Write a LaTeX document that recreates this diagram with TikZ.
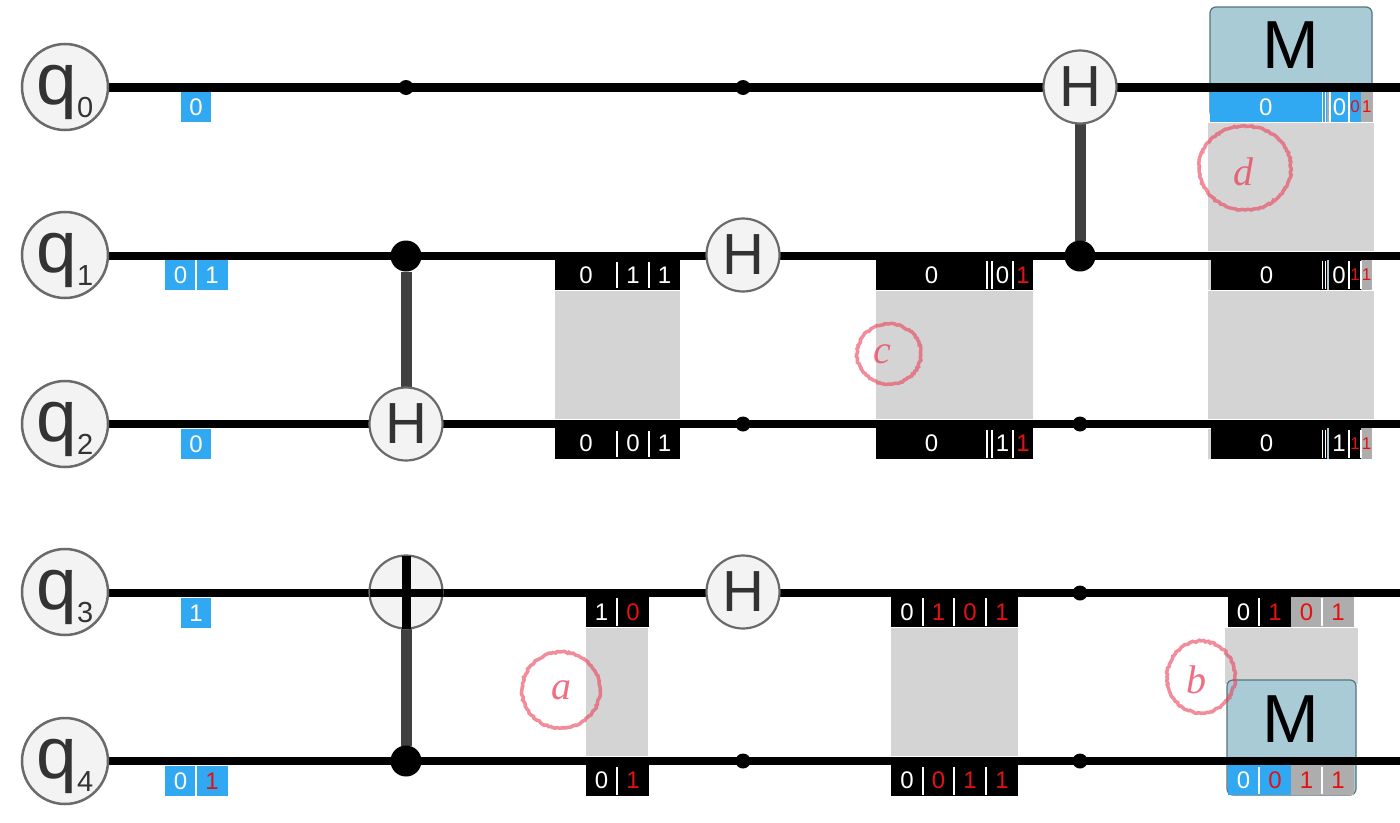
\documentclass[tikz,border=0pt]{standalone}
\usepackage{fontspec}
\setmainfont{Liberation Sans}
\newfontfamily\handfont{Liberation Serif}
\usetikzlibrary{decorations.pathmorphing}
\pgfdeclarelayer{back}
\pgfdeclarelayer{wire}
\pgfsetlayers{back,wire,main}
\definecolor{chipblue}{HTML}{30A9F2}
\definecolor{lightgrey}{HTML}{D4D4D4}
\definecolor{midgrey}{HTML}{ADADAD}
\definecolor{mfill}{HTML}{A9CBD6}
\definecolor{medge}{HTML}{56727C}
\definecolor{gatefill}{HTML}{F3F3F3}
\definecolor{gateedge}{HTML}{6A6A6A}
\definecolor{ink}{HTML}{333333}
\definecolor{stem}{HTML}{404040}
\definecolor{redtxt}{HTML}{E31212}
\definecolor{pencil}{HTML}{EA4058}
\newcommand{\FS}[1]{\fontsize{#1}{#1}\selectfont}
\newcommand{\Qlabel}[1]{\raisebox{-17pt}[0pt][0pt]{\FS{73}q\raisebox{-13pt}{\FS{29}#1}}}
% name, x1, x2, y1, y2, style, text
\newcommand{\Cell}[7]{%
  \pgfmathsetmacro{\cx}{(#2+#3)/2}\pgfmathsetmacro{\cy}{(#4+#5)/2}%
  \pgfmathsetmacro{\cw}{#3-#2}\pgfmathsetmacro{\ch}{#5-#4}%
  \node[cell,#6,minimum width=\cw pt,minimum height=\ch pt] (cell#1) at (\cx,\cy) {#7};}
\newcommand{\Div}[3]{\draw[divider] (#1,#2) -- (#1,#3);}
\tikzset{
  cell/.style={inner sep=0pt,outer sep=0pt,text=white,font=\FS{24}},
  blk/.style={fill=black},
  blu/.style={fill=chipblue},
  gry/.style={fill=midgrey},
  red/.style={text=redtxt},
  tiny/.style={font=\FS{17}},
  divider/.style={white,line width=1.2pt},
  backing/.style={fill=lightgrey,draw=none},
  qubit/.style={circle,draw=gateedge,fill=gatefill,line width=2.5pt,minimum size=86pt,inner sep=0pt,outer sep=0pt,text=ink},
  gate/.style={circle,draw=gateedge,fill=gatefill,line width=2.2pt,minimum size=73pt,inner sep=0pt,outer sep=0pt,text=ink,font=\FS{58}},
  wireline/.style={black,line width=8.5pt},
  ctrl/.style={draw=stem,line width=11pt},
  bigdot/.style={circle,fill=black,minimum size=31pt,inner sep=0pt,outer sep=0pt},
  smalldot/.style={circle,fill=black,minimum size=15pt,inner sep=0pt,outer sep=0pt},
  measure/.style={rectangle,rounded corners=6pt,fill=mfill,draw=medge,line width=1.2pt,inner sep=0pt,outer sep=0pt},
  mlabel/.style={text=black,font=\FS{68},inner sep=0pt},
  scribble/.style={pencil,opacity=.6,line width=3.5pt,decorate,decoration={random steps,segment length=2pt,amplitude=.8pt}},
  scribtxt/.style={text=pencil,opacity=.75,font=\handfont\itshape\FS{40},inner sep=0pt}
}
\begin{document}
\begin{tikzpicture}[x=1pt,y=-1pt]
\useasboundingbox (0,0) rectangle (1400,822);
\begin{pgfonlayer}{back}
  \fill[white] (0,0) rectangle (1400,822);
\end{pgfonlayer}
% qubit labels
\node[qubit] (q0) at (65,87) {\Qlabel{0}};
\node[qubit] (q1) at (65,255) {\Qlabel{1}};
\node[qubit] (q2) at (65,424) {\Qlabel{2}};
\node[qubit] (q3) at (65,592) {\Qlabel{3}};
\node[qubit] (q4) at (65,761) {\Qlabel{4}};
\coordinate (e0) at (1400,87.5);
\coordinate (e1) at (1400,256);
\coordinate (e2) at (1400,424);
\coordinate (e3) at (1400,593);
\coordinate (e4) at (1400,761);
% gates
\node[gate] (h0) at (1080,87) {H};
\node[gate] (h1) at (743,255) {H};
\node[gate] (h2) at (406,424) {H};
\node[gate] (h3) at (743,592) {H};
\node[gate] (x3) at (406,592) {};
% controls
\node[bigdot] (c1a) at (406,256) {};
\node[bigdot] (c1b) at (1080,256) {};
\node[bigdot] (c4) at (406,761) {};
\node[smalldot] (d0a) at (406,87.5) {};
\node[smalldot] (d0b) at (743,87.5) {};
\node[smalldot] (d2a) at (743,424) {};
\node[smalldot] (d2b) at (1080,424) {};
\node[smalldot] (d3) at (1080,593) {};
\node[smalldot] (d4a) at (743,761) {};
\node[smalldot] (d4b) at (1080,761) {};
\begin{pgfonlayer}{back}
  \fill[backing] (555,291) rectangle (680,419);
  \fill[backing] (876,291) rectangle (1033,419);
  \fill[backing] (1208,123) rectangle (1374,251);
  \fill[backing] (1208,291) rectangle (1374,419);
  \fill[backing] (1208,260) rectangle (1211,290);
  \fill[backing] (1208,429) rectangle (1211,459);
  \fill[backing] (586,628) rectangle (648,756);
  \fill[backing] (891,628) rectangle (1018,756);
  \fill[backing] (1225,628) rectangle (1358,684);
  \node[measure,minimum width=162pt,minimum height=111pt] (m0) at (1291,62.5) {};
  \node[measure,minimum width=129pt,minimum height=115pt] (m4) at (1291.5,737.5) {};
\end{pgfonlayer}
\node[mlabel] (m0t) at (1291,45) {M};
\node[mlabel] (m4t) at (1291,719) {M};
\begin{pgfonlayer}{wire}
  \draw[wireline] (q0.east |- e0) -- (e0);
  \draw[wireline] (q1.east |- e1) -- (e1);
  \draw[wireline] (q2.east |- e2) -- (e2);
  \draw[wireline] (q3.east |- e3) -- (e3);
  \draw[wireline] (q4.east |- e4) -- (e4);
  \draw[ctrl] (c1a) -- (h2);
  \draw[ctrl] (h0) -- (c1b);
  \draw[ctrl] (x3) -- (c4);
\end{pgfonlayer}
\draw[black,line width=8.5pt] (x3.west |- e3) -- (x3.east |- e3);
\draw[black,line width=9pt] (x3.north) -- (x3.south);
% initial chips
\Cell{a0}{181}{211}{92}{122}{blu}{0}
\Cell{a1l}{165}{196}{260}{290}{blu}{0}
\Cell{a1r}{196}{228}{260}{290}{blu}{1}
\Div{196}{260}{290}
\Cell{a2}{181}{211}{429}{459}{blu}{0}
\Cell{a3}{181}{211}{598}{628}{blu}{1}
\Cell{a4l}{165}{196}{766}{796}{blu}{0}
\Cell{a4r}{196}{228}{766}{796}{blu,red}{1}
\Div{196}{766}{796}
% first column, q1 q2
\Cell{b1a}{555}{617}{260}{290}{blk}{0}
\Cell{b1b}{617}{649}{260}{290}{blk}{1}
\Cell{b1c}{649}{680}{260}{290}{blk}{1}
\Div{617}{262}{288}\Div{649}{262}{288}
\Cell{b2a}{555}{617}{428}{459}{blk}{0}
\Cell{b2b}{617}{649}{428}{459}{blk}{0}
\Cell{b2c}{649}{680}{428}{459}{blk}{1}
\Div{617}{431}{457}\Div{649}{431}{457}
% second column, q1 q2
\Cell{c1a}{876}{987}{260}{290}{blk}{0}
\Cell{c1b}{987}{992}{260}{290}{blk}{}
\Cell{c1c}{992}{1013}{260}{290}{blk}{0}
\Cell{c1d}{1013}{1033}{260}{290}{blk,red}{1}
\Div{987}{261}{289}\Div{992}{261}{289}\Div{1013}{261}{289}
\Cell{c2a}{876}{987}{428}{459}{blk}{0}
\Cell{c2b}{987}{992}{428}{459}{blk}{}
\Cell{c2c}{992}{1013}{428}{459}{blk}{1}
\Cell{c2d}{1013}{1033}{428}{459}{blk,red}{1}
\Div{987}{430}{458}\Div{992}{430}{458}\Div{1013}{430}{458}
% third column, q0
\Cell{d0a}{1209.5}{1322}{92}{122}{blu}{0}
\Cell{d0f}{1322}{1327}{92}{122}{blu}{}
\Cell{d0b}{1327}{1330}{92}{122}{gry}{}
\Cell{d0c}{1330}{1349}{92}{122}{blu}{0}
\Cell{d0d}{1349}{1361}{92}{122}{blu,red,tiny}{0}
\Cell{d0e}{1361}{1372.6}{92}{122}{gry,red,tiny}{1}
\Div{1322.5}{92}{122}\Div{1325.5}{92}{122}\Div{1330}{92}{122}\Div{1349}{92}{122}
% third column, q1 q2
\Cell{d1a}{1211}{1322}{260}{290}{blk}{0}
\Cell{d1b}{1327}{1329}{260}{290}{fill=mfill}{}
\Cell{d1c}{1329}{1349}{260}{290}{blk}{0}
\Cell{d1d}{1349}{1361}{260}{290}{blk,red,tiny}{1}
\Cell{d1e}{1361}{1372}{260}{290}{gry,red,tiny}{1}
\fill[black] (1322,260) rectangle (1327,290);
\Div{1322.5}{261}{289}\Div{1325.5}{261}{289}\Div{1349}{261}{289}\Div{1361}{261}{289}
\Cell{d2a}{1211}{1322}{428}{459}{blk}{0}
\Cell{d2b}{1327}{1329}{428}{459}{fill=mfill}{}
\Cell{d2c}{1329}{1349}{428}{459}{blk}{1}
\Cell{d2d}{1349}{1361}{428}{459}{blk,red,tiny}{1}
\Cell{d2e}{1361}{1372}{428}{459}{gry,red,tiny}{1}
\fill[black] (1322,428) rectangle (1327,459);
\Div{1322.5}{430}{458}\Div{1325.5}{430}{458}\Div{1349}{430}{458}\Div{1361}{430}{458}
% lower group, first column
\Cell{e3a}{586}{617}{597}{627}{blk}{1}
\Cell{e3b}{617}{649}{597}{627}{blk,red}{0}
\Div{617}{598}{626}
\Cell{e4a}{586}{617}{765}{796}{blk}{0}
\Cell{e4b}{617}{649}{765}{796}{blk,red}{1}
\Div{617}{767}{795}
% lower group, second column
\Cell{f3a}{891}{923}{597}{627}{blk}{0}
\Cell{f3b}{923}{954}{597}{627}{blk,red}{1}
\Cell{f3c}{954}{986}{597}{627}{blk,red}{0}
\Cell{f3d}{986}{1018}{597}{627}{blk,red}{1}
\Div{923}{598}{626}\Div{954}{598}{626}\Div{986}{598}{626}
\Cell{f4a}{891}{923}{765}{796}{blk}{0}
\Cell{f4b}{923}{954}{765}{796}{blk,red}{0}
\Cell{f4c}{954}{986}{765}{796}{blk,red}{1}
\Cell{f4d}{986}{1018}{765}{796}{blk,red}{1}
\Div{923}{767}{795}\Div{954}{767}{795}\Div{986}{767}{795}
% lower group, third column
\Cell{g3a}{1228}{1259}{597}{627}{blk}{0}
\Cell{g3b}{1259}{1291}{597}{627}{blk,red}{1}
\Cell{g3c}{1291}{1322}{597}{627}{gry,red}{0}
\Cell{g3d}{1322}{1354}{597}{627}{gry,red}{1}
\Div{1259}{598}{626}\Div{1322}{598}{626}
\Cell{g4a}{1228}{1259}{765}{795}{blu}{0}
\Cell{g4b}{1259}{1291}{765}{795}{blu,red}{0}
\Cell{g4c}{1291}{1322}{765}{795}{gry,red}{1}
\Cell{g4d}{1322}{1354}{765}{795}{gry,red}{1}
\Div{1259}{767}{794}\Div{1322}{767}{794}
% pencil annotations
\draw[scribble] (561,690) ellipse [x radius=39pt,y radius=38pt];
\draw[scribble] (1201,677) ellipse [x radius=34pt,y radius=36pt];
\draw[scribble] (889,354) ellipse [x radius=32pt,y radius=30pt];
\draw[scribble] (1245,168) ellipse [x radius=46pt,y radius=42pt];
\node[scribtxt] (la) at (561,690) {a};
\node[scribtxt] (lb) at (1196,680) {b};
\node[scribtxt] (lc) at (882,354) {c};
\node[scribtxt] (ld) at (1243,172) {d};
\end{tikzpicture}
\end{document}
